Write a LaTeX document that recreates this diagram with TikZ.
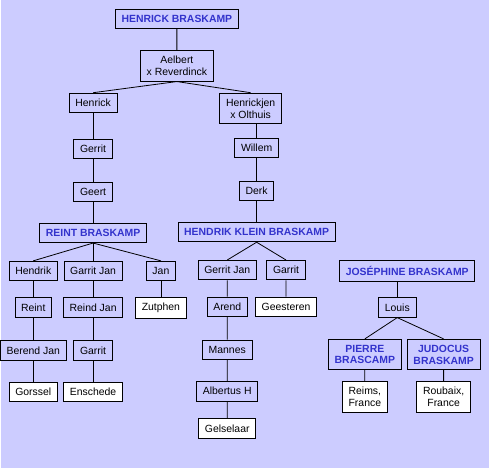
\documentclass[tikz,border=0pt]{standalone}
\usepackage{fontspec}
\setmainfont{Liberation Sans}
\usepackage{tikz}
\usetikzlibrary{positioning}

\definecolor{lavender}{RGB}{204,204,255}
\definecolor{namesblue}{RGB}{51,51,204}

\begin{document}
\begin{tikzpicture}[x=1bp, y=1bp,
    edge from parent/.style={draw, line width=0.8bp},
    parent anchor=south, child anchor=north,
    box/.style={draw, line width=0.8bp, anchor=north, align=center,
        inner xsep=6.2bp, inner ysep=5.6bp, minimum height=19.5bp,
        font=\fontsize{10.5}{12}\selectfont},
    family/.style={box, text=namesblue, font=\fontsize{10.5}{12}\selectfont\bfseries},
    place/.style={box, fill=white},
    straight/.style={edge from parent path={(\tikzchildnode.north |- \tikzparentnode.south) -- (\tikzchildnode.north)}},
    slanted/.style={edge from parent path={(\tikzparentnode.south) -- (\tikzchildnode.north)}},
    level 1/.style={level distance=31bp},
    level 2/.style={level distance=27bp, sibling distance=164bp},
    level 3/.style={level distance=36bp},
    level 4/.style={level distance=33bp},
    level 5/.style={level distance=31bp},
    level 6/.style={level distance=28bp, sibling distance=64bp},
    level 7/.style={level distance=26.5bp},
    level 8/.style={level distance=33bp},
    level 9/.style={level distance=31.5bp},
    level 10/.style={level distance=27bp}]
    \fill[lavender] (0,0) rectangle (489,-469);
    \node[family] (henrickB) at (176,-9) {HENRICK BRASKAMP}
        child {node[box] (aelbert) {Aelbert\\x Reverdinck}
            child[xshift=-2bp] {node[box] (henrick) {Henrick}
                child {node[box] (gerrit) {Gerrit}
                    child {node[box] (geert) {Geert}
                        child {node[family] (reintB) {REINT BRASKAMP}
                            child[xshift=4bp] {node[box] (hendrik) {Hendrik}
                                child {node[box] (reint) {Reint}
                                    child {node[box] (berendjan) {Berend Jan}
                                        child {node[place] (gorssel) {Gorssel}}
                                    }
                                }
                            }
                            child {node[box] (garritjan) {Garrit Jan}
                                child {node[box] (reindjan) {Reind Jan}
                                    child {node[box] (garrit) {Garrit}
                                        child {node[place] (enschede) {Enschede}}
                                    }
                                }
                            }
                            child[xshift=4bp] {node[box] (jan) {Jan}
                                child {node[place] (zutphen) {Zutphen}}
                            }
                        }
                    }
                }
            }
            child[xshift=-8bp] {node[box] (henrickjen) {Henrickjen\\x Olthuis}
                child[xshift=6bp, yshift=6.5bp, straight] {node[box] (willem) {Willem}
                    child {node[box] (derk) {Derk}
                        child {node[family] (hendrikB) {HENDRIK KLEIN BRASKAMP}
                            child[sibling distance=59bp, slanted] {node[box] (gerritjan) {Gerrit Jan}
                                child {node[box] (arend) {Arend}
                                    child {node[box] (mannes) {Mannes}
                                        child {node[box] (albertus) {Albertus H}
                                            child {node[place] (gelselaar) {Gelselaar}}
                                        }
                                    }
                                }
                            }
                            child[sibling distance=59bp, slanted] {node[box] (garrit2) {Garrit}
                                child {node[place] (geesteren) {Geesteren}}
                            }
                        }
                    }
                }
            }
        };
    \begin{scope}[level 1/.style={level distance=26.5bp},
        level 2/.style={level distance=31.5bp, sibling distance=79bp},
        level 3/.style={level distance=26.5bp}]
        \node[family] (josephineB) at (407,-261) {JOSÉPHINE BRASKAMP}
            child[xshift=-10bp, straight] {node[box] (louis) {Louis}
                child[xshift=7bp, slanted] {node[family] (pierreB) {PIERRE\\BRASCAMP}
                    child {node[place] (reims) {Reims,\\France}}
                }
                child[xshift=7bp, slanted] {node[family] (judocusB) {JUDOCUS\\BRASKAMP}
                    child {node[place] (roubaix) {Roubaix,\\France}}
                }
            };
    \end{scope}
\end{tikzpicture}
\end{document}
